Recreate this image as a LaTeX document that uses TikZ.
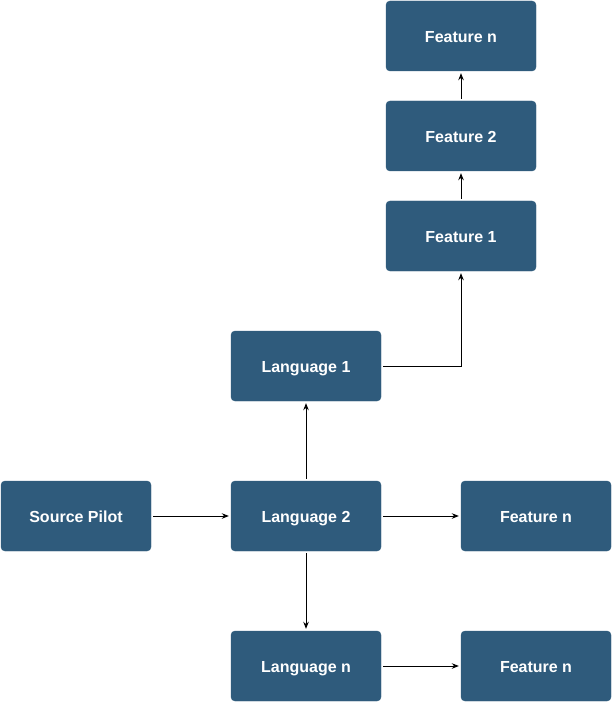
\documentclass[tikz,border=0pt]{standalone}
\usepackage{fontspec}
\setmainfont{Liberation Sans}
\usetikzlibrary{arrows.meta}

\definecolor{boxblue}{HTML}{2F5B7C}

\begin{document}
\begin{tikzpicture}[x=1pt, y=1pt,
    stepbox/.style={draw=boxblue, fill=boxblue, rounded corners=4pt,
      minimum width=150pt, minimum height=70pt, inner sep=0pt,
      text height=13.6pt, text depth=0pt,
      text=white, font=\fontsize{16}{19}\selectfont\bfseries},
    link/.style={-{Stealth[length=7pt, width=5.5pt]}, line width=0.9pt,
      shorten <=2pt, shorten >=2pt}]
        \useasboundingbox (0, 0) rectangle (613, -703);
        % feature chain on top
        \node [stepbox] (featn) at (461, -36) {Feature n};
        \node [stepbox] (feat2) at (461, -136) {Feature 2};
        \node [stepbox] (feat1) at (461, -236) {Feature 1};
        % languages
        \node [stepbox] (lang1) at (306, -366) {Language 1};
        \node [stepbox] (src) at (76, -516) {Source Pilot};
        \node [stepbox] (lang2) at (306, -516) {Language 2};
        \node [stepbox] (featmid) at (536, -516) {Feature n};
        \node [stepbox] (langn) at (306, -666) {Language n};
        \node [stepbox] (featlow) at (536, -666) {Feature n};
        % connectors
        \draw [link] (src) -- (lang2);
        \draw [link] (lang2) -- (lang1);
        \draw [link] (lang2) -- (langn);
        \draw [link] (lang2) -- (featmid);
        \draw [link] (langn) -- (featlow);
        \draw [link] (lang1) -| (feat1);
        \draw [link] (feat1) -- (feat2);
        \draw [link] (feat2) -- (featn);
      \end{tikzpicture}
\end{document}
